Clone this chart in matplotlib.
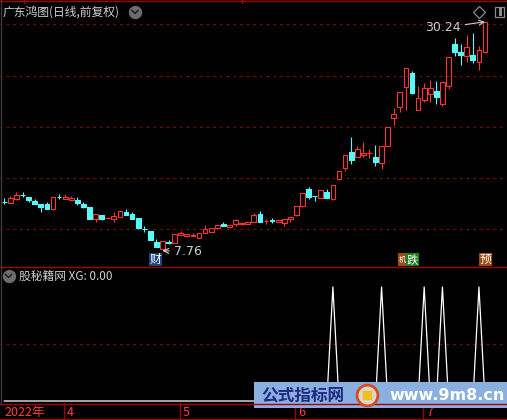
import matplotlib
matplotlib.use('Agg')
import matplotlib.pyplot as plt
from matplotlib.lines import Line2D
from matplotlib.patches import Rectangle

plt.rcParams['font.family'] = ['Noto Sans CJK SC', 'DejaVu Sans']

W, H = 507, 420

# 广东鸿图 daily bars, 2022-03-18 .. 2022-07-15 (front-adjusted)
opens = [12.58, 12.42, 12.81, 13.24, 13.01, 12.61, 12.35, 12.32, 11.82, 13.08,
         12.84, 12.71, 12.74, 12.35, 12.02, 10.90, 11.23, 10.99, 10.87, 11.10,
         11.56, 11.36, 10.97, 9.90, 9.69, 8.64, 7.90, 8.57, 8.49, 9.33,
         9.17, 9.20, 8.98, 9.47, 9.63, 9.96, 10.41, 10.12, 10.35, 10.35,
         10.41, 10.55, 11.36, 10.70, 10.73, 10.61, 10.51, 10.84, 11.24, 12.15,
         13.82, 13.11, 12.96, 13.55, 12.84, 14.80, 15.91, 17.45, 16.99, 17.13,
         17.31, 16.96, 16.40, 18.07, 20.82, 21.90, 23.80, 25.23, 21.57, 22.55,
         23.11, 23.47, 22.13, 23.96, 28.08, 27.30, 26.90, 26.97, 26.25, 27.24]
highs = [12.91, 13.13, 13.49, 13.52, 13.03, 12.84, 12.37, 12.54, 13.03, 13.33,
         13.33, 13.13, 13.03, 12.50, 12.04, 11.35, 11.25, 11.10, 11.53, 11.65,
         11.86, 11.56, 11.00, 10.18, 9.71, 8.91, 8.73, 8.81, 9.42, 9.69,
         9.42, 9.50, 9.52, 10.28, 9.98, 10.30, 10.58, 10.30, 10.87, 10.53,
         10.60, 11.43, 11.66, 10.90, 10.97, 10.79, 10.86, 11.09, 12.17, 13.44,
         14.04, 13.13, 13.74, 13.79, 14.23, 15.60, 17.17, 18.95, 18.04, 18.46,
         17.74, 18.14, 18.06, 19.95, 21.80, 23.33, 25.69, 25.40, 23.93, 24.19,
         24.52, 24.42, 24.31, 26.77, 28.61, 28.02, 28.94, 29.10, 27.88, 30.24]
lows = [12.35, 12.40, 12.74, 13.03, 12.57, 12.30, 11.59, 11.86, 11.80, 12.84,
        12.82, 12.69, 12.25, 11.95, 10.88, 10.61, 10.82, 10.90, 10.61, 11.08,
        11.27, 10.88, 9.89, 9.60, 8.79, 8.13, 7.76, 8.40, 8.47, 9.31,
        9.15, 9.18, 8.96, 9.45, 9.61, 9.94, 10.19, 10.10, 10.18, 10.33,
        10.39, 10.53, 10.59, 10.35, 10.48, 10.59, 10.18, 10.58, 11.20, 12.08,
        12.81, 12.67, 12.94, 12.94, 12.74, 14.70, 15.61, 16.30, 16.97, 16.99,
        16.89, 16.10, 15.78, 18.05, 20.10, 21.35, 21.57, 23.19, 21.55, 22.36,
        22.39, 22.19, 21.97, 23.60, 26.87, 25.99, 26.31, 26.22, 25.50, 27.22]
closes = [12.56, 12.91, 13.23, 13.22, 12.77, 12.32, 12.08, 11.88, 13.01, 13.06,
          13.07, 12.91, 12.48, 12.08, 10.90, 11.33, 10.84, 11.01, 11.17, 11.63,
          11.29, 10.90, 10.02, 9.88, 8.81, 8.15, 8.71, 8.55, 9.40, 9.53,
          9.40, 9.33, 9.50, 9.89, 9.96, 10.28, 10.21, 10.28, 10.77, 10.51,
          10.58, 11.26, 10.61, 10.72, 10.71, 10.77, 10.84, 11.07, 12.15, 13.40,
          13.06, 13.09, 13.72, 12.96, 14.21, 15.58, 17.15, 16.69, 17.74, 17.32,
          17.33, 16.50, 18.04, 19.93, 21.18, 23.31, 25.67, 23.21, 22.72, 23.70,
          23.70, 22.88, 24.29, 26.75, 27.27, 26.97, 27.73, 26.48, 27.46, 30.18]

# XG signal of the 股秘籍网 indicator
xg = [0, 0, 0, 0, 0, 0, 0, 0, 0, 0, 0, 0, 0, 0, 0, 0, 0, 0, 0, 0,
      0, 0, 0, 0, 0, 0, 0, 0, 0, 0, 0, 0, 0, 0, 0, 0, 0, 0, 0, 0,
      0, 0, 0, 0, 0, 0, 0, 0, 0, 0, 0, 0, 0, 0, 100, 0, 0, 0, 0, 0,
      0, 0, 100, 0, 0, 0, 0, 0, 0, 100, 0, 0, 100, 0, 0, 0, 0, 0, 100, 0]

month_labels = ['2022年', '4', '5', '6', '7']
month_starts = [0, 10, 29, 48, 69]
price_grid = [9.89, 14.90, 19.90, 24.91, 30.01]
low_idx, low_val = 26, 7.76
high_idx, high_val = 79, 30.24

RED = '#ff3434'
CYAN = '#54fcfc'
GRID = '#c00000'
SEP = '#a80000'
TXT = '#cfcfcf'


def fx(x):
    return x / W


def fy(y):
    return 1 - y / H


fig = plt.figure(figsize=(W / 100, H / 100), dpi=100, facecolor='black')

ax = fig.add_axes([0, fy(267), 1, 265 / H], facecolor='black')
ax2 = fig.add_axes([0, fy(403), 1, 136 / H], facecolor='black')
axt = fig.add_axes([0, 0, 1, 17 / H], facecolor='black')
for a in (ax, ax2, axt):
    a.set_xlim(-0.707, 82.61)
    a.set_xticks([])
    a.set_yticks([])
    for s in a.spines.values():
        s.set_visible(False)

ax.set_ylim(6.16, 32.18)
ax2.set_ylim(-1.75, 117.5)
axt.set_ylim(0, 1)

# price grid
for g in price_grid:
    ax.axhline(g, color=GRID, lw=0.8, ls=(0, (1.5, 4.5)), zorder=0)
ax2.axhline(50, color=GRID, lw=0.8, ls=(0, (1.5, 4.5)), zorder=0)

# candles
bw = 0.78
for i in range(len(opens)):
    o, h, l, c = opens[i], highs[i], lows[i], closes[i]
    top, bot = max(o, c), min(o, c)
    if c >= o:
        ax.vlines(i, top, h, color=RED, lw=0.8)
        ax.vlines(i, l, bot, color=RED, lw=0.8)
        ax.add_patch(Rectangle((i - bw / 2, bot), bw, top - bot, fill=False,
                               edgecolor=RED, lw=0.8, zorder=3))
    else:
        ax.vlines(i, l, h, color=CYAN, lw=0.8)
        ax.add_patch(Rectangle((i - bw / 2, bot), bw, top - bot,
                               facecolor=CYAN, edgecolor=CYAN, lw=0.8, zorder=3))

ax.annotate('%.2f' % low_val, xy=(low_idx, low_val), xytext=(11, -1),
            textcoords='offset pixels', ha='left', va='center', color=TXT,
            fontsize=9, family='DejaVu Sans',
            arrowprops=dict(arrowstyle='->', color=TXT, lw=0.8,
                            shrinkA=1, shrinkB=0))
ax.annotate('%.2f' % high_val, xy=(high_idx, high_val), xytext=(-24, -6),
            textcoords='offset pixels', ha='right', va='center', color=TXT,
            fontsize=9, family='DejaVu Sans',
            arrowprops=dict(arrowstyle='->', color=TXT, lw=0.8,
                            shrinkA=1, shrinkB=0))

# indicator
ax2.plot(range(len(xg)), xg, color='white', lw=0.9)

# month axis
for lab, m in zip(month_labels, month_starts):
    if m > 0:
        axt.axvline(m - 0.2, color=SEP, lw=1)
        axt.text(m + 0.3, 0.47, lab, color='#ff3c3c', fontsize=9,
                 ha='left', va='center')
    else:
        axt.text(m, 0.47, lab, color='#ff3c3c', fontsize=9,
                 ha='left', va='center')

# frame lines
for yy in (0.6, 267, 403.5, 419.3):
    fig.add_artist(Line2D([0, 1], [fy(yy), fy(yy)], color=SEP, lw=1,
                          transform=fig.transFigure))
for xx in (24, 242):
    fig.add_artist(Line2D([fx(xx), fx(xx)], [fy(0), fy(3)], color=SEP, lw=1,
                          transform=fig.transFigure))
fig.add_artist(Line2D([fx(0.5), fx(0.5)], [fy(0), fy(403)], color='#3a3a3a',
                      lw=1, transform=fig.transFigure))

# titles and icons
fig.text(fx(3), fy(12), '广东鸿图(日线,前复权)', color=TXT, fontsize=8.5,
         ha='left', va='center')
fig.text(fx(19), fy(276), '股秘籍网 XG: 0.00', color=TXT, fontsize=8.5,
         ha='left', va='center')
for cx, cy in ((135, 12), (8.5, 276)):
    fig.add_artist(Line2D([fx(cx)], [fy(cy)], marker='o', ms=8.6,
                          color='#6c6c6c', transform=fig.transFigure))
    fig.add_artist(Line2D([fx(cx - 3), fx(cx), fx(cx + 3)],
                          [fy(cy - 1.5), fy(cy + 1.5), fy(cy - 1.5)],
                          color='#202020', lw=1.1, transform=fig.transFigure))
fig.add_artist(Line2D([fx(479)], [fy(12)], marker='D', ms=6.5, mfc='none',
                      mec='#8c8c8c', mew=0.9, transform=fig.transFigure))
fig.add_artist(Rectangle((fx(494.5), fy(17)), 9 / W, 10 / H, fill=False,
                         edgecolor='#8c8c8c', lw=0.9,
                         transform=fig.transFigure))
fig.add_artist(Rectangle((fx(499), fy(15.5)), 3 / W, 7 / H,
                         facecolor='#8c8c8c', edgecolor='none',
                         transform=fig.transFigure))

# info mine tags (the 机 tag sits partly under the 跌 tag)
tags = [('财', 149, 161.7, '#1c4478', 8.5), ('机', 398, 406, '#9a4a12', 5.2),
        ('跌', 406, 419, '#18801c', 8.2), ('预', 479, 492, '#9a4a12', 8.5)]
for t, x0, x1, col, fs in tags:
    fig.add_artist(Rectangle((fx(x0), fy(266)), (x1 - x0) / W, 13 / H,
                             facecolor=col, edgecolor='none',
                             transform=fig.transFigure))
    fig.text(fx((x0 + x1) / 2), fy(259.5), t, color='white', fontsize=fs,
             ha='center', va='center')

# site watermark
fig.add_artist(Rectangle((fx(254), fy(408)), 253 / W, 26 / H,
                         facecolor='#89b0e0', edgecolor='none',
                         transform=fig.transFigure))
fig.text(fx(261), fy(395), '公式指标网', color='#1f2a80', fontsize=12,
         weight='bold', ha='left', va='center')
fig.add_artist(Line2D([fx(367)], [fy(395)], marker='o', ms=15, mfc='#dcd6cc',
                      mec='#d84a22', mew=2, transform=fig.transFigure))
fig.add_artist(Line2D([fx(367)], [fy(395)], marker='s', ms=6,
                      color='#f0c020', transform=fig.transFigure))
fig.text(fx(389), fy(395.5), 'www.9m8.cn', color='white', fontsize=11.5,
         weight='bold', family='DejaVu Sans', ha='left', va='center')

fig.savefig('out.png', dpi=100, facecolor='black')
